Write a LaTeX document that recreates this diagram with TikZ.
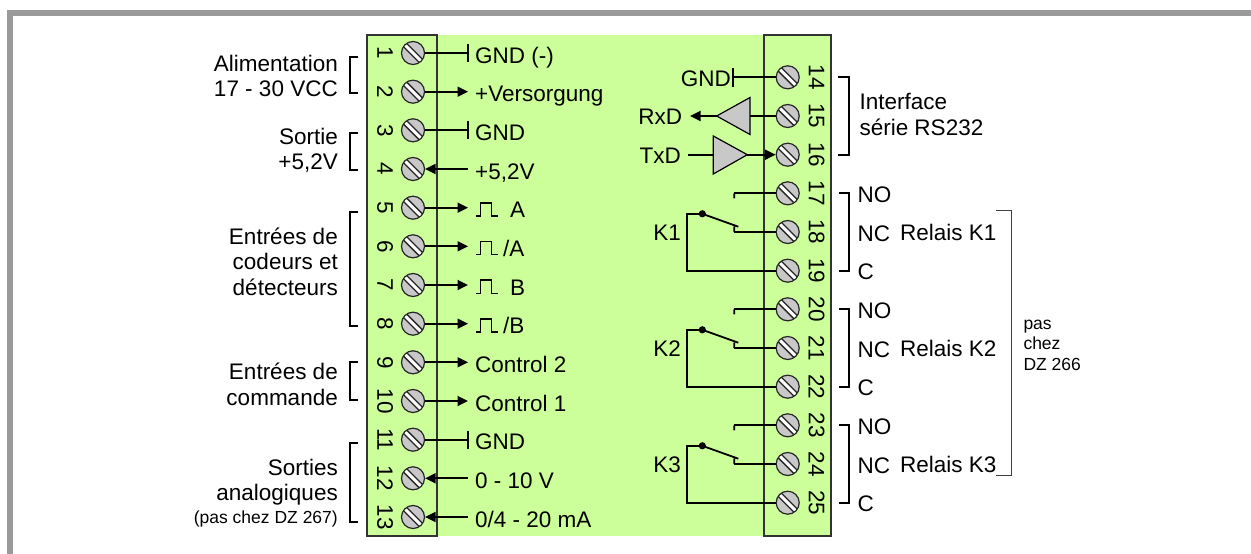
\documentclass[tikz,border=0pt]{standalone}
\usepackage{fontspec}
\setmainfont{Liberation Sans}
\usetikzlibrary{arrows.meta}
\definecolor{termgreen}{RGB}{204,255,153}
\definecolor{screwgray}{RGB}{200,200,200}
\definecolor{framegray}{RGB}{153,153,153}
\tikzset{
  screw/.style={circle, draw=black!85, line width=1.2pt, fill=screwgray, minimum size=23pt, inner sep=0pt,
    path picture={\draw[black!85, line width=6pt] (path picture bounding box.north west) -- (path picture bounding box.south east);
                  \draw[white, line width=3pt] (path picture bounding box.north west) -- (path picture bounding box.south east);}},
  num/.style={font=\fontsize{22.5}{26}\selectfont, rotate=-90, inner sep=0pt},
  lbl/.style={font=\fontsize{22.5}{25.5}\selectfont, inner sep=0pt},
  smalllbl/.style={font=\fontsize{17.5}{20.5}\selectfont, inner sep=0pt},
  wire/.style={line width=1.8pt},
  brk/.style={line width=1.8pt},
  sigarrow/.style={-{Triangle[length=10.5pt,width=10pt]}},
}
\begin{document}
\begin{tikzpicture}[x=1pt, y=-1pt]
\useasboundingbox (0,0) rectangle (1251,554);
% frame
\fill[framegray] (7,10) rectangle (1251,16);
\fill[framegray] (7,10) rectangle (13,554);
% board and terminal strips
\fill[termgreen] (367,35) rectangle (831,536);
\draw[black!80, line width=1.2pt] (367,35) rectangle (437,536);
\draw[black!80, line width=1.2pt] (764,35) rectangle (831,536);
% screws
\draw (413,53) node[screw](s1){}    (413,91.7) node[screw](s2){}  (413,130.3) node[screw](s3){}
      (413,169) node[screw](s4){}   (413,207.7) node[screw](s5){} (413,246.3) node[screw](s6){}
      (413,285) node[screw](s7){}   (413,323.7) node[screw](s8){} (413,362.3) node[screw](s9){}
      (413,401) node[screw](s10){}  (413,439.7) node[screw](s11){} (413,478.3) node[screw](s12){}
      (413,517) node[screw](s13){};
\draw (787.7,77.3) node[screw](s14){}  (787.7,116) node[screw](s15){}   (787.7,154.7) node[screw](s16){}
      (787.7,193.3) node[screw](s17){} (787.7,232) node[screw](s18){}   (787.7,270.7) node[screw](s19){}
      (787.7,309.3) node[screw](s20){} (787.7,348) node[screw](s21){}   (787.7,386.7) node[screw](s22){}
      (787.7,425.3) node[screw](s23){} (787.7,464) node[screw](s24){}   (787.7,502.7) node[screw](s25){};
% terminal numbers
\path (385,53) node[num](n1){1}     (385,91.7) node[num](n2){2}    (385,130.3) node[num](n3){3}
      (385,169) node[num](n4){4}    (385,207.7) node[num](n5){5}   (385,246.3) node[num](n6){6}
      (385,285) node[num](n7){7}    (385,323.7) node[num](n8){8}   (385,362.3) node[num](n9){9}
      (385,401) node[num](n10){10}  (385,439.7) node[num](n11){11} (385,478.3) node[num](n12){12}
      (385,517) node[num](n13){13};
\path (816.5,77.3) node[num](n14){14}  (816.5,116) node[num](n15){15}   (816.5,154.7) node[num](n16){16}
      (816.5,193.3) node[num](n17){17} (816.5,232) node[num](n18){18}   (816.5,270.7) node[num](n19){19}
      (816.5,309.3) node[num](n20){20} (816.5,348) node[num](n21){21}   (816.5,386.7) node[num](n22){22}
      (816.5,425.3) node[num](n23){23} (816.5,464) node[num](n24){24}   (816.5,502.7) node[num](n25){25};
% left side signals
\coordinate (e1) at (468,53);    \coordinate (e2) at (468,91.7);  \coordinate (e3) at (468,130.3);
\coordinate (e4) at (468,169);   \coordinate (e5) at (468,207.7); \coordinate (e6) at (468,246.3);
\coordinate (e7) at (468,285);   \coordinate (e8) at (468,323.7); \coordinate (e9) at (468,362.3);
\coordinate (e10) at (468,401);  \coordinate (e11) at (468,439.7); \coordinate (e12) at (468,478.3);
\coordinate (e13) at (468,517);
\path[wire]
    (s1) edge (e1)
    (s3) edge (e3)
    (s11) edge (e11);
\path[wire, sigarrow]
    (s2) edge (e2)
    (e4) edge (s4)
    (s5) edge (e5)
    (s6) edge (e6)
    (s7) edge (e7)
    (s8) edge (e8)
    (s9) edge (e9)
    (s10) edge (e10)
    (e12) edge (s12)
    (e13) edge (s13);
\draw[wire] (e1) ++(0,-9) -- ++(0,18);
\draw[wire] (e3) ++(0,-9) -- ++(0,18);
\draw[wire] (e11) ++(0,-9) -- ++(0,18);
% pulse symbols
\draw[line width=1.6pt] (476,216) -- ++(4.5,0) -- ++(0,-13.3) -- ++(11,0) -- ++(0,13.3) -- ++(6,0);
\draw[line width=1.6pt] (476,254.6) -- ++(4.5,0) -- ++(0,-13.3) -- ++(11,0) -- ++(0,13.3) -- ++(6,0);
\draw[line width=1.6pt] (476,293.3) -- ++(4.5,0) -- ++(0,-13.3) -- ++(11,0) -- ++(0,13.3) -- ++(6,0);
\draw[line width=1.6pt] (476,332) -- ++(4.5,0) -- ++(0,-13.3) -- ++(11,0) -- ++(0,13.3) -- ++(6,0);
\path (475,63) node[lbl, anchor=base west](t1){GND (-)}
      (475,101.7) node[lbl, anchor=base west](t2){+Versorgung}
      (475,140.3) node[lbl, anchor=base west](t3){GND}
      (475,179) node[lbl, anchor=base west](t4){+5,2V}
      (510,217.7) node[lbl, anchor=base west](t5){A}
      (503,256.3) node[lbl, anchor=base west](t6){/A}
      (510,295) node[lbl, anchor=base west](t7){B}
      (503,333.7) node[lbl, anchor=base west](t8){/B}
      (475,372.3) node[lbl, anchor=base west](t9){Control 2}
      (475,411) node[lbl, anchor=base west](t10){Control 1}
      (475,449.7) node[lbl, anchor=base west](t11){GND}
      (475,488.3) node[lbl, anchor=base west](t12){0 - 10 V}
      (475,527) node[lbl, anchor=base west](t13){0/4 - 20 mA};
% left group labels
\path (338,96.7) node[lbl, anchor=base east, align=right](l1){Alimentation\\17 - 30 VCC}
      (338,169.5) node[lbl, anchor=base east, align=right](l2){Sortie\\+5,2V}
      (338,295) node[lbl, anchor=base east, align=right](l3){Entrées de\\codeurs et\\détecteurs}
      (338,405) node[lbl, anchor=base east, align=right](l4){Entrées de\\commande}
      (338,500.7) node[lbl, anchor=base east, align=right](l5){Sorties\\analogiques}
      (338,523.3) node[smalllbl, anchor=base east](l6){(pas chez DZ 267)};
\draw[brk] (358,57) -| (350,93) -- (358,93);
\draw[brk] (358,133) -| (350,170) -- (358,170);
\draw[brk] (358,211.7) -| (350,325.7) -- (358,325.7);
\draw[brk] (358,361.7) -| (350,400) -- (358,400);
\draw[brk] (358,443) -| (350,521.7) -- (358,521.7);
% RS232
\coordinate (e14) at (733.3,77.3);
\coordinate (rxin) at (750,116);  \coordinate (rxout) at (716.7,116);  \coordinate (e15) at (690,116);
\coordinate (e16) at (688.3,154.7); \coordinate (txin) at (713.3,154.7); \coordinate (txout) at (747.3,154.7);
\path[wire] (s14) edge (e14);
\draw[wire] (e14) ++(0,-9.5) -- ++(0,19);
\filldraw[fill=screwgray, line width=1.2pt] (750,97.5) -- (750,134.5) -- (rxout) -- cycle;
\filldraw[fill=screwgray, line width=1.2pt] (713.3,136) -- (713.3,174) -- (txout) -- cycle;
\path[wire]
    (s15) edge (rxin)
    (e16) edge (txin);
\path[wire, sigarrow]
    (rxout) edge (e15)
    (txout) edge (s16);
\path (731,86.5) node[lbl, anchor=base east](t14){GND}
      (682.3,124.5) node[lbl, anchor=base east](t15){RxD}
      (681,163.2) node[lbl, anchor=base east](t16){TxD};
% relays
\coordinate (no1) at (734.3,193.3); \coordinate (nc1) at (734.3,232);   \coordinate (p1) at (702.3,213.8); \coordinate (bl1) at (738.3,226.7);
\coordinate (no2) at (734.3,309.3); \coordinate (nc2) at (734.3,348);   \coordinate (p2) at (702.3,329.8); \coordinate (bl2) at (738.3,342.7);
\coordinate (no3) at (734.3,425.3); \coordinate (nc3) at (734.3,464);   \coordinate (p3) at (702.3,445.8); \coordinate (bl3) at (738.3,458.7);
\path[wire]
    (s17) edge (no1)
    (s18) edge (nc1)
    (s20) edge (no2)
    (s21) edge (nc2)
    (s23) edge (no3)
    (s24) edge (nc3);
\draw[wire] (no1) -- ++(0,5)  (nc1) -- ++(0,-5.3) (p1) -- (bl1);
\draw[wire] (no2) -- ++(0,5)  (nc2) -- ++(0,-5.3) (p2) -- (bl2);
\draw[wire] (no3) -- ++(0,5)  (nc3) -- ++(0,-5.3) (p3) -- (bl3);
\draw[wire] (p1) -| (686.7,270.7) -- (s19);
\draw[wire] (p2) -| (686.7,386.7) -- (s22);
\draw[wire] (p3) -| (686.7,502.7) -- (s25);
\fill (p1) circle (3.6) (p2) circle (3.6) (p3) circle (3.6);
\path (681,240.7) node[lbl, anchor=base east](k1){K1}
      (681,356.7) node[lbl, anchor=base east](k2){K2}
      (681,472.7) node[lbl, anchor=base east](k3){K3};
% right labels
\path (859.3,135) node[lbl, anchor=base west, align=left](r1){Interface\\série RS232}
      (857.3,202.5) node[lbl, anchor=base west](o1){NO}
      (857.3,241) node[lbl, anchor=base west](c1){NC}
      (857.3,279.7) node[lbl, anchor=base west](m1){C}
      (900,240.5) node[lbl, anchor=base west](r2){Relais K1}
      (857.3,318.5) node[lbl, anchor=base west](o2){NO}
      (857.3,357) node[lbl, anchor=base west](c2){NC}
      (857.3,395.7) node[lbl, anchor=base west](m2){C}
      (900,356.5) node[lbl, anchor=base west](r3){Relais K2}
      (857.3,434.5) node[lbl, anchor=base west](o3){NO}
      (857.3,473) node[lbl, anchor=base west](c3){NC}
      (857.3,511.7) node[lbl, anchor=base west](m3){C}
      (900,472.5) node[lbl, anchor=base west](r4){Relais K3}
      (1023.3,370) node[smalllbl, anchor=base west, align=left](dz){pas\\chez\\DZ 266};
\draw[brk] (838,77.3) -| (849,154.7) -- (838,154.7);
\draw[brk] (839,193.3) -| (849,270.7) -- (839,270.7);
\draw[brk] (839,309.3) -| (849,386.7) -- (839,386.7);
\draw[brk] (839,425.3) -| (849,502.7) -- (839,502.7);
\draw[black!75, line width=1pt] (996,210) -| (1011,475.7) -- (996,475.7);
\end{tikzpicture}
\end{document}
